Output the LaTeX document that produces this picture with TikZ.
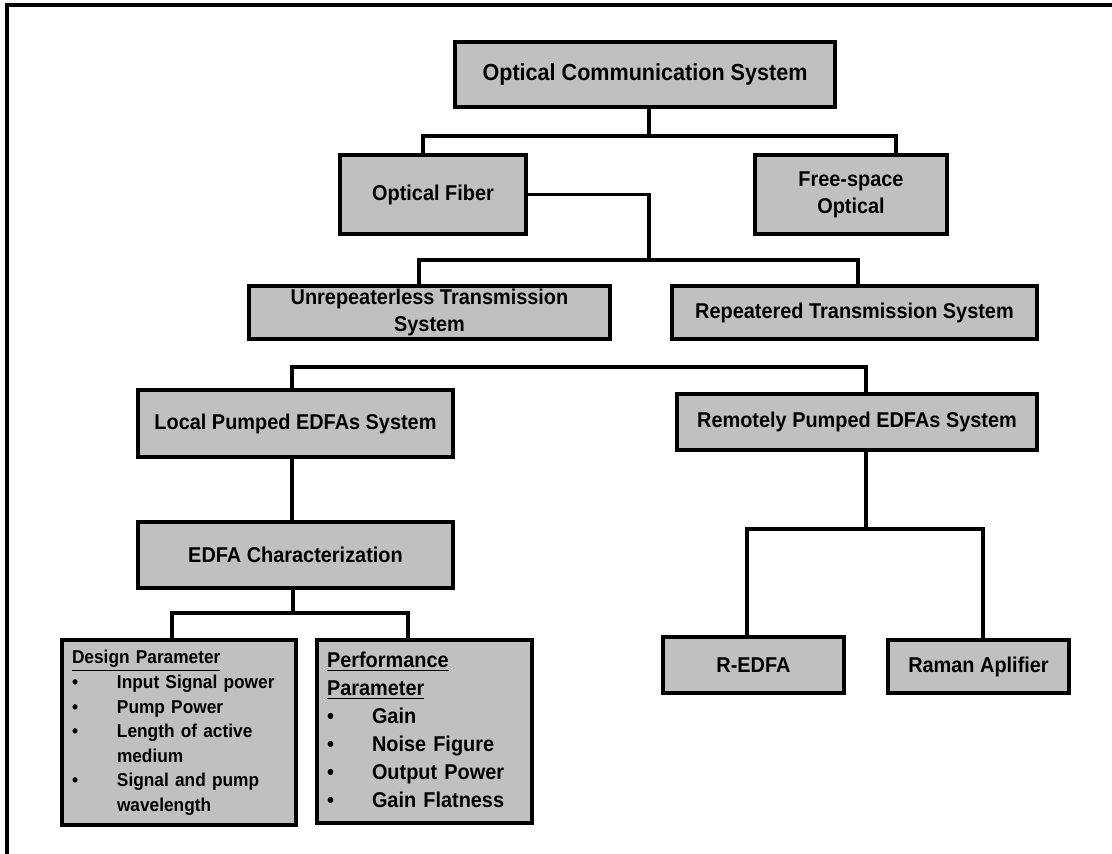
\documentclass[tikz,border=0pt]{standalone}
\usepackage{fontspec}
\setmainfont{Liberation Sans}[FakeStretch=0.93]
\usepackage{array}
\usepackage{xcolor}
\definecolor{boxgray}{RGB}{192,192,192}

\begin{document}
\begin{tikzpicture}[x=0.5pt,y=-0.5pt,
  box/.style={draw,rectangle,fill=boxgray,line width=1.6pt,align=center,inner sep=2pt,
    font=\bfseries\fontsize{10.7}{13.5}\selectfont},
  listbox/.style={box,align=left,inner xsep=5pt},
  link/.style={line width=1.6pt}]
\useasboundingbox (0,0) rectangle (1112,854);
\draw[line width=1.6pt] (7,854) -- (7,5) -- (1112,5);

\node[box,minimum width=190pt,minimum height=32.5pt,font=\bfseries\fontsize{11.6}{14}\selectfont] (ocs) at (645,74.5) {Optical Communication System};
\node[box,minimum width=93pt,minimum height=39.5pt] (fiber) at (433,194.5) {Optical Fiber};
\node[box,minimum width=96pt,minimum height=39.5pt] (free) at (851,194.5) {Free-space\\Optical};
\node[box,minimum width=180.5pt,minimum height=26.5pt,inner sep=0pt] (unrep) at (429.5,312.5) {Unrepeaterless Transmission\\System};
\node[box,minimum width=182.5pt,minimum height=26.5pt] (rep) at (854.5,312.5) {Repeatered Transmission System};
\node[box,minimum width=157.5pt,minimum height=33.5pt] (local) at (295.5,423.5) {Local Pumped EDFAs System};
\node[box,minimum width=180pt,minimum height=28pt] (remote) at (857,422) {Remotely Pumped EDFAs System};
\node[box,minimum width=157.5pt,minimum height=33pt] (edfa) at (295.5,555) {EDFA Characterization};
\node[box,minimum width=90.5pt,minimum height=28pt] (redfa) at (753.5,665) {R-EDFA};
\node[box,minimum width=90.5pt,minimum height=26.5pt] (raman) at (978.5,666.5) {Raman Aplifier};

\node[listbox,text width=107pt,minimum height=92.5pt,font=\bfseries\fontsize{9.3}{12.25}\selectfont] (design) at (179,732.5) {%
\begin{tabular}{@{}p{22.5pt}@{}l@{}}
\multicolumn{2}{@{}l@{}}{\underline{Design Parameter}}\\
\textbullet & Input Signal power\\
\textbullet & Pump Power\\
\textbullet & Length of active\\
 & medium\\
\textbullet & Signal and pump\\
 & wavelength
\end{tabular}};
\node[listbox,text width=97.5pt,minimum height=91.5pt,font=\bfseries\fontsize{10.7}{14}\selectfont] (perf) at (424.5,731.5) {%
\begin{tabular}{@{}p{22.5pt}@{}l@{}}
\multicolumn{2}{@{}l@{}}{\underline{Performance}}\\
\multicolumn{2}{@{}l@{}}{\underline{Parameter}}\\
\textbullet & Gain\\
\textbullet & Noise Figure\\
\textbullet & Output Power\\
\textbullet & Gain Flatness
\end{tabular}};

\coordinate (b1l) at (423,136);
\coordinate (b1m) at (649,136);
\coordinate (b1r) at (896,136);
\coordinate (b2l) at (419,260);
\coordinate (b2m) at (649,260);
\coordinate (b2r) at (858,260);
\coordinate (b3l) at (292,367);
\coordinate (b3r) at (866,367);
\coordinate (b4l) at (172,613);
\coordinate (b4m) at (293,613);
\coordinate (b4r) at (408,613);
\coordinate (b5l) at (747,529);
\coordinate (b5m) at (866,529);
\coordinate (b5r) at (983,529);

\draw[link] (ocs.south -| b1m) -- (b1m);
\draw[link] (fiber.north -| b1l) |- (b1r) -- (free.north -| b1r);
\draw[link] (fiber.east) -| (b2m);
\draw[link] (unrep.north -| b2l) |- (b2r) -- (rep.north -| b2r);
\draw[link] (local.north -| b3l) |- (b3r) -- (remote.north -| b3r);
\draw[link] (local.south -| b3l) -- (edfa.north -| b3l);
\draw[link] (edfa.south -| b4m) -- (b4m);
\draw[link] (design.north -| b4l) |- (b4r) -- (perf.north -| b4r);
\draw[link] (remote.south -| b5m) -- (b5m);
\draw[link] (redfa.north -| b5l) |- (b5r) -- (raman.north -| b5r);
\end{tikzpicture}
\end{document}
